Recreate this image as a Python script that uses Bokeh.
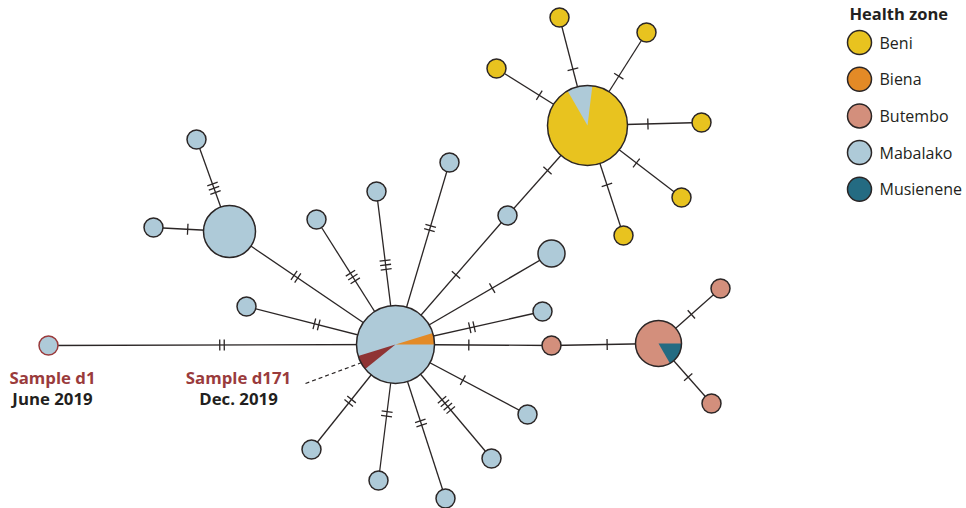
import math
from bokeh.plotting import figure
from bokeh.models import Range1d
from bokeh.core.properties import value
from bokeh.embed import file_html
from bokeh.resources import INLINE

# ---------------- data ----------------
zones = ["Beni", "Biena", "Butembo", "Mabalako", "Musienene"]
zone_colors = ["#e8c31f", "#e38a26", "#d38f7c", "#aecad8", "#246b82"]

# haplotype nodes (layout position in picture pixels, radius, main zone)
node_names = ["C", "d1", "Lbig", "Ltop", "Lleft", "n5", "n6", "n7", "n8", "n9",
              "Bmain", "n11", "n12", "n13", "Bumain", "Bu1", "Bu2",
              "s1", "s2", "s3", "s4", "s5",
              "Be1", "Be2", "Be3", "Be4", "Be5", "Be6"]
node_px = [395, 48, 229, 196, 153, 246, 316, 376, 449, 507,
           587, 551, 542, 551, 658, 720, 711,
           311, 378, 445, 491, 527,
           559, 646, 496, 701, 681, 623]
node_py = [344, 345, 231, 139, 227, 306, 219, 191, 162, 215,
           125, 253, 311, 345, 343, 288, 403,
           449, 480, 498, 458, 414,
           17, 32, 68, 122, 197, 235]
node_r = [39, 9.5, 26, 9.5, 9.5, 9.5, 9.5, 9.5, 9.5, 9.5,
          40, 13.5, 9.5, 9.5, 23, 9.5, 9.5,
          9.5, 9.5, 9.5, 9.5, 9.5,
          9.5, 9.5, 9.5, 9.5, 9.5, 9.5]
node_zone = ["Mabalako", "Mabalako", "Mabalako", "Mabalako", "Mabalako", "Mabalako",
             "Mabalako", "Mabalako", "Mabalako", "Mabalako",
             "Beni", "Mabalako", "Mabalako", "Butembo", "Butembo", "Butembo", "Butembo",
             "Mabalako", "Mabalako", "Mabalako", "Mabalako", "Mabalako",
             "Beni", "Beni", "Beni", "Beni", "Beni", "Beni"]

# pie slices on mixed nodes (node, zone/colour key, start deg, end deg)
slice_node = ["C", "C", "Bmain", "Bumain"]
slice_key = ["Biena", "d171", "Mabalako", "Musienene"]
slice_start = [0, 197, 83, 300]
slice_end = [17, 219, 120, 360]

# links: source, target, number of mutations, hash position along link
link_src = ["C", "C", "Lbig", "Lbig", "C", "C", "C", "C", "C", "n9", "C", "C", "C",
            "n13", "Bumain", "Bumain", "C", "C", "C", "C", "C",
            "Bmain", "Bmain", "Bmain", "Bmain", "Bmain", "Bmain"]
link_dst = ["d1", "Lbig", "Ltop", "Lleft", "n5", "n6", "n7", "n8", "n9", "Bmain", "n11", "n12", "n13",
            "Bumain", "Bu1", "Bu2", "s1", "s2", "s3", "s4", "s5",
            "Be1", "Be2", "Be3", "Be4", "Be5", "Be6"]
link_mut = [2, 2, 3, 1, 2, 3, 3, 2, 1, 1, 1, 2, 1,
            1, 1, 1, 2, 2, 2, 4, 1,
            1, 1, 1, 1, 1, 1]
link_t = [0.50, 0.60, 0.47, 0.55, 0.53, 0.54, 0.52, 0.64, 0.54, 0.50, 0.62, 0.52, 0.47,
          0.52, 0.53, 0.56, 0.54, 0.51, 0.51, 0.53, 0.51,
          0.52, 0.53, 0.53, 0.53, 0.52, 0.54]

sample_labels = ["Sample d1", "Sample d171"]
sample_dates = ["June 2019", "Dec. 2019"]
sample_lx = [52, 238]
sample_ly = [377, 377]

# ---------------- figure ----------------
W, H = 966, 508
p = figure(width=W, height=H, output_backend="svg", toolbar_location=None,
           x_range=Range1d(0, W), y_range=Range1d(0, H),
           min_border=0)
p.axis.visible = False
p.grid.visible = False
p.outline_line_color = None
p.background_fill_color = "white"

INK = "#2b2626"
MAROON = "#8f3434"
LABEL_RED = "#9a3b3c"
color_of = dict(zip(zones, zone_colors))
color_of["d171"] = MAROON
FONT = value("Open Sans")


def Y(py):
    return H - py


idx = {n: i for i, n in enumerate(node_names)}
nx = [float(v) for v in node_px]
ny = [float(Y(v)) for v in node_py]

# links
lx0, ly0, lx1, ly1 = [], [], [], []
hx0, hy0, hx1, hy1 = [], [], [], []
for s, d, m, t in zip(link_src, link_dst, link_mut, link_t):
    a, b = idx[s], idx[d]
    x0, y0, x1, y1 = nx[a], ny[a], nx[b], ny[b]
    lx0.append(x0); ly0.append(y0); lx1.append(x1); ly1.append(y1)
    L = math.hypot(x1 - x0, y1 - y0)
    ux, uy = (x1 - x0) / L, (y1 - y0) / L
    px_, py_ = -uy, ux
    cx, cy = x0 + (x1 - x0) * t, y0 + (y1 - y0) * t
    gap = 4.5
    half = 5.5
    for k in range(m):
        off = (k - (m - 1) / 2) * gap
        hx = cx + ux * off
        hy = cy + uy * off
        hx0.append(hx - px_ * half); hy0.append(hy - py_ * half)
        hx1.append(hx + px_ * half); hy1.append(hy + py_ * half)

p.segment(lx0, ly0, lx1, ly1, line_color=INK, line_width=1.3)
p.segment(hx0, hy0, hx1, hy1, line_color=INK, line_width=1.3)

# dashed pointer to the sample d171 slice
c = idx["C"]
ang = math.radians((slice_start[1] + slice_end[1]) / 2)
ex = nx[c] + node_r[c] * math.cos(ang)
ey = ny[c] + node_r[c] * math.sin(ang)
p.segment([sample_lx[1] + 67], [Y(sample_ly[1] + 6)], [ex], [ey],
          line_color=INK, line_width=1.2, line_dash="4 3")

# node fills
fills = [color_of[z] for z in node_zone]
p.circle(nx, ny, radius=node_r, fill_color=fills, line_color=None)

# pie slices
sx = [nx[idx[n]] for n in slice_node]
sy = [ny[idx[n]] for n in slice_node]
sr = [node_r[idx[n]] for n in slice_node]
p.wedge(sx, sy, radius=sr, start_angle=slice_start, end_angle=slice_end,
        start_angle_units="deg", end_angle_units="deg",
        fill_color=[color_of[k] for k in slice_key], line_color=None)

# outlines
outline = [LABEL_RED if n == "d1" else INK for n in node_names]
p.circle(nx, ny, radius=node_r, fill_color=None, line_color=outline, line_width=1.5)

# sample labels
p.text(sample_lx, [Y(v) for v in sample_ly], text=sample_labels, text_font=FONT,
       text_font_style="bold", text_font_size="16.8px", text_color=LABEL_RED,
       text_align="center", text_baseline="middle")
p.text(sample_lx, [Y(v + 21) for v in sample_ly], text=sample_dates, text_font=FONT,
       text_font_style="bold", text_font_size="16.8px", text_color="#231f20",
       text_align="center", text_baseline="middle")

# legend
leg_x = 859
leg_y = [Y(42 + 36.7 * i) for i in range(len(zones))]
p.text([849], [Y(13)], text=["Health zone"], text_font=FONT, text_font_style="bold",
       text_font_size="16.5px", text_color="#231f20", text_align="left", text_baseline="middle")
p.circle([leg_x] * len(zones), leg_y, radius=12, fill_color=zone_colors,
         line_color=INK, line_width=1.5)
p.text([879] * len(zones), leg_y, text=zones, text_font=FONT, text_font_size="16px",
       text_color="#231f20", text_align="left", text_baseline="middle")

open("out.html", "w").write(file_html(p, INLINE))
